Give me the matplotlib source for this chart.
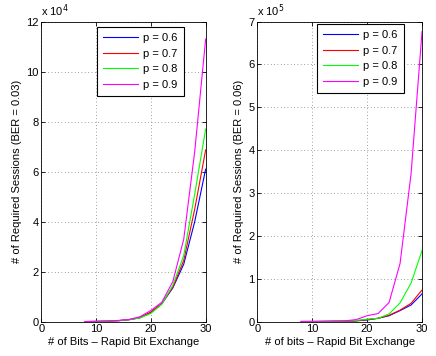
import matplotlib
matplotlib.use("Agg")
import matplotlib.pyplot as plt
from matplotlib.ticker import FixedLocator

plt.rcParams['font.family'] = ['Liberation Sans', 'DejaVu Sans']

bits = [8, 10, 12, 14, 16, 18, 20, 22, 24, 26, 28, 30]
labels = ["p = 0.6", "p = 0.7", "p = 0.8", "p = 0.9"]
colors = ["#0000ff", "#ff0000", "#00ff00", "#ff00ff"]

# Left panel, BER = 0.03, values in units of 1e4
left_p06 = [0.005, 0.01, 0.02, 0.04, 0.08, 0.16, 0.38, 0.72, 1.35, 2.3, 4.0, 6.1]
left_p07 = [0.005, 0.01, 0.02, 0.04, 0.08, 0.16, 0.38, 0.73, 1.38, 2.45, 4.5, 6.87]
left_p08 = [0.005, 0.01, 0.02, 0.04, 0.08, 0.15, 0.33, 0.70, 1.45, 2.65, 5.1, 7.7]
left_p09 = [0.01, 0.02, 0.03, 0.05, 0.09, 0.2, 0.45, 0.78, 1.6, 3.3, 6.8, 11.3]

# Right panel, BER = 0.06, values in units of 1e5
right_p06 = [0.002, 0.003, 0.005, 0.008, 0.012, 0.02, 0.04, 0.08, 0.14, 0.26, 0.39, 0.65]
right_p07 = [0.002, 0.003, 0.005, 0.008, 0.012, 0.02, 0.05, 0.08, 0.15, 0.27, 0.43, 0.74]
right_p08 = [0.003, 0.004, 0.006, 0.01, 0.015, 0.03, 0.06, 0.08, 0.18, 0.44, 0.9, 1.66]
right_p09 = [0.01, 0.012, 0.015, 0.018, 0.02, 0.05, 0.14, 0.19, 0.45, 1.36, 3.45, 6.77]

left_series = [left_p06, left_p07, left_p08, left_p09]
right_series = [right_p06, right_p07, right_p08, right_p09]

fig = plt.figure(figsize=(4.36, 3.56), dpi=100)
fs = 8

def style(ax, ymax, yticks, exp, ylabel, xlabel, anchor):
    ax.set_xlim(0, 30)
    ax.set_ylim(0, ymax)
    ax.xaxis.set_major_locator(FixedLocator([0, 10, 20, 30]))
    ax.yaxis.set_major_locator(FixedLocator(yticks))
    ax.set_yticklabels([str(t) for t in yticks])
    ax.tick_params(direction='in', length=3, width=0.6, labelsize=fs,
                   top=True, right=True, pad=2)
    ax.grid(True, linestyle=(0, (1, 3)), color='#808080', linewidth=0.6)
    for s in ax.spines.values():
        s.set_linewidth(0.6)
    ax.set_ylabel(ylabel, fontsize=fs, labelpad=3)
    ax.set_xlabel(xlabel, fontsize=fs, labelpad=2)
    ax.text(0.0, 1.01, r"x 10$^{%d}$" % exp, transform=ax.transAxes,
            fontsize=fs, ha='left', va='bottom')
    leg = ax.legend(loc='upper right', fontsize=fs, frameon=True, fancybox=False,
                    edgecolor='black', framealpha=1, handlelength=3.1,
                    borderpad=0.55, labelspacing=0.5, handletextpad=0.5,
                    borderaxespad=0.0, bbox_to_anchor=anchor)
    leg.get_frame().set_linewidth(0.8)

ax1 = fig.add_axes([0.0947, 0.0963, 0.377, 0.843])
for ys, c, l in zip(left_series, colors, labels):
    ax1.plot(bits, ys, color=c, linewidth=0.8, label=l)
style(ax1, 12, [0, 2, 4, 6, 8, 10, 12], 4,
      "# of Required Sessions (BER = 0.03)", "# of Bits \u2013 Rapid Bit Exchange",
      (0.868, 0.982))

ax2 = fig.add_axes([0.590, 0.0963, 0.378, 0.843])
for ys, c, l in zip(right_series, colors, labels):
    ax2.plot(bits, ys, color=c, linewidth=0.8, label=l)
style(ax2, 7, [0, 1, 2, 3, 4, 5, 6, 7], 5,
      "# of Required Sessions (BER = 0.06)", "# of bits \u2013 Rapid Bit Exchange",
      (0.889, 0.992))

fig.savefig("out.png", dpi=100)
